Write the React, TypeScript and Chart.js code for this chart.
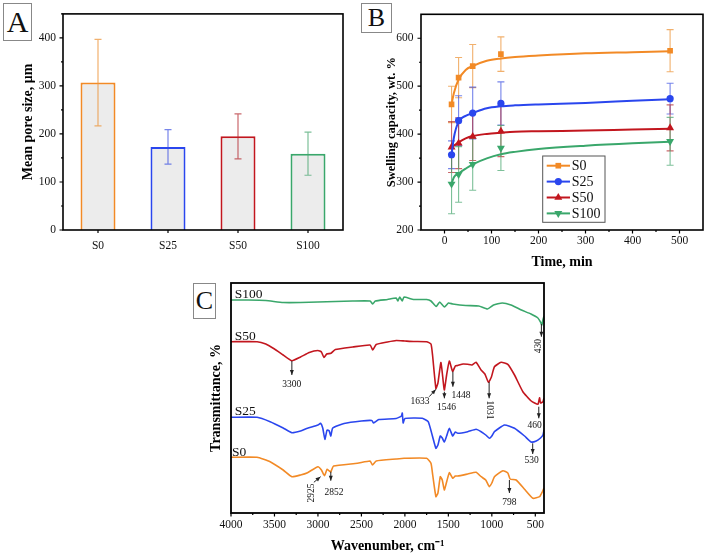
import React, { useEffect, useRef } from 'react';
import { Chart, registerables } from 'chart.js';

Chart.register(...registerables);

const SERIF = '"Liberation Serif", "Times New Roman", Times, serif';
const INK = '#111';

// ---------------- Panel A: mean pore size ----------------
const poreCategories = ['S0', 'S25', 'S50', 'S100'];
const poreMeans = [307, 173, 195, 159];
const poreErrors = [90, 36, 47, 45];
const poreMajorTicks = [0, 100, 200, 300, 400];
const poreMinorTicks = [50, 150, 250, 350, 450];

// ---------------- shared sample colours ----------------
const sampleNames = ['S0', 'S25', 'S50', 'S100'];
const sampleColors = ['#f28a26', '#2a46ee', '#c2161e', '#3aa76b'];
const sampleErrColors = ['rgba(236,150,60,0.75)', 'rgba(60,80,225,0.7)', 'rgba(180,40,45,0.7)', 'rgba(70,165,110,0.7)'];

// ---------------- Panel B: swelling capacity ----------------
const swellTimes = [15, 30, 60, 120, 480];
const swellS0 = [462, 518, 542, 567, 574];
const swellS0Err = [38, 42, 45, 36, 44];
const swellS25 = [357, 428, 444, 464, 474];
const swellS25Err = [29, 52, 54, 45, 32];
const swellS50 = [373, 381, 395, 406, 413];
const swellS50Err = [53, 53, 50, 53, 48];
const swellS100 = [296, 316, 337, 371, 385];
const swellS100Err = [62, 58, 54, 47, 50];
const fitTimes = [15, 20, 30, 45, 60, 90, 120, 150, 200, 300, 400, 480];
const fitS0 = [462, 486, 514, 534, 542, 553, 558, 561, 564, 568.5, 571, 573];
const fitS25 = [357, 393, 426, 438, 444, 454, 458, 460, 462, 465, 469.5, 473];
const fitS50 = [372, 376, 383, 391, 396, 400.5, 403, 405, 406, 407.5, 409.5, 411];
const fitS100 = [296, 310, 318, 328, 337, 349.5, 358, 363, 369, 376, 381, 384];
const swellXMajor = [0, 100, 200, 300, 400, 500];
const swellXMinor = [-50, 50, 150, 250, 350, 450, 550];
const swellYMajor = [200, 300, 400, 500, 600];
const swellYMinor = [250, 350, 450, 550, 650];
const swellMarkers = ['rect', 'circle', 'triangle', 'triangle'];
const swellMarkerRot = [0, 0, 0, 180];
const swellMarkerRadius = [4, 3.6, 4.6, 4.6];

// ---------------- Panel C: FTIR spectra (offset transmittance) ----------------
const ftirS100Wn = [4000, 3800, 3600, 3400, 3200, 3000, 2800, 2600, 2400, 2370, 2340, 2200, 2100, 2080, 2060, 2030, 2010, 1900, 1750, 1700, 1640, 1600, 1545, 1500, 1450, 1300, 1150, 1050, 980, 880, 780, 660, 550, 470, 440, 425, 410, 400];
const ftirS100 = [213, 213, 212.5, 210.5, 210.5, 211, 211.5, 212, 212, 209, 212, 213.5, 215, 212, 216, 212, 216, 213.5, 213.5, 212, 206.5, 211, 206, 210, 209, 207.5, 207, 204, 208, 210, 208, 203, 199, 195, 191, 188, 194, 197];
const ftirS50Wn = [4000, 3700, 3600, 3500, 3400, 3300, 3200, 3100, 3000, 2960, 2930, 2900, 2850, 2800, 2600, 2400, 2370, 2330, 2200, 2100, 2000, 1900, 1750, 1700, 1682, 1643, 1620, 1585, 1547, 1520, 1489, 1451, 1420, 1393, 1330, 1278, 1230, 1182, 1124, 1080, 1039, 1005, 970, 893, 816, 739, 643, 547, 470, 451, 440, 412, 400];
const ftirS50 = [171.3, 171.3, 169, 164, 158, 152.3, 156, 160.5, 162.5, 161, 155.5, 159, 159.7, 163.5, 166, 168, 163, 168.5, 171, 172.5, 172, 171.5, 171.3, 169, 158, 124.5, 130, 150.5, 123, 138, 152, 141.5, 147, 147.5, 149, 148.7, 148, 150.7, 143, 139, 130.7, 136, 146.3, 150.7, 148.7, 138, 121.3, 112, 108.7, 115.3, 110, 111.3, 115];
const ftirS25Wn = [4000, 3700, 3550, 3400, 3300, 3200, 3120, 3000, 2970, 2945, 2920, 2895, 2870, 2852, 2830, 2700, 2500, 2380, 2360, 2300, 2100, 2040, 2030, 2020, 2000, 1800, 1732, 1681, 1643, 1620, 1593, 1570, 1547, 1520, 1489, 1450, 1420, 1392, 1277, 1181, 1123, 1070, 1028, 1000, 970, 855, 739, 624, 547, 489, 440, 412, 400];
const ftirS25 = [95.7, 95.7, 91.3, 85, 80.3, 82, 84.7, 88, 89.7, 85, 73.7, 83, 82, 77, 85, 89.5, 92, 92.5, 90, 93.5, 94.5, 97, 100, 90, 94.5, 94.7, 91.3, 76.3, 64.7, 68, 77, 75, 71, 77, 84.7, 77, 81, 79.7, 81.3, 83.7, 81.3, 78, 74.7, 77, 81.3, 88, 84.7, 77, 71, 72, 75, 78, 83];
const ftirS0Wn = [4000, 3700, 3550, 3400, 3300, 3200, 3120, 3000, 2960, 2925, 2895, 2870, 2852, 2820, 2546, 2400, 2373, 2330, 2100, 2009, 1750, 1700, 1680, 1643, 1620, 1593, 1570, 1547, 1520, 1489, 1450, 1420, 1392, 1277, 1181, 1123, 1070, 1028, 1000, 970, 873, 816, 790, 720, 624, 528, 451, 420, 400];
const ftirS0 = [55.7, 55.7, 51.3, 43, 36.3, 38, 40.3, 46.3, 43, 37.3, 43.7, 42, 41, 47, 49.7, 52, 48, 52, 54, 54.7, 54.7, 49.7, 38, 16.3, 20, 36.3, 33, 23, 31, 40.3, 34.7, 37, 37, 39, 40.7, 36.3, 33, 26.3, 30, 36.3, 42.3, 40, 34, 33, 23.7, 14.7, 16.3, 21, 25];
const ftirXMajor = [4000, 3500, 3000, 2500, 2000, 1500, 1000, 500];
const ftirXMinor = [3750, 3250, 2750, 2250, 1750, 1250, 750];
const ftirSeriesLabels = [
  { text: 'S100', wn: 3958, y: 219 },
  { text: 'S50', wn: 3958, y: 177 },
  { text: 'S25', wn: 3958, y: 101.3 },
  { text: 'S0', wn: 3988, y: 60.5 },
];
// arrow from (wn0, y0) to (wn1, y1); label at (lw, ly) rotated by rot degrees
const ftirPeaks = [
  { text: '3300', wn0: 3300, y0: 152, wn1: 3300, y1: 138, lw: 3300, ly: 128.7, rot: 0 },
  { text: '1633', wn0: 1720, y0: 116.3, wn1: 1643, y1: 123.7, lw: 1825, ly: 111.3, rot: 0 },
  { text: '1546', wn0: 1546, y0: 121.3, wn1: 1546, y1: 114.7, lw: 1520, ly: 105.3, rot: 0 },
  { text: '1448', wn0: 1448, y0: 141.3, wn1: 1448, y1: 126.3, lw: 1354, ly: 117.7, rot: 0 },
  { text: '1031', wn0: 1031, y0: 131, wn1: 1031, y1: 114.7, lw: 1028, ly: 103, rot: 90 },
  { text: '460', wn0: 460, y0: 106.3, wn1: 460, y1: 94.7, lw: 508, ly: 88, rot: 0 },
  { text: '430', wn0: 430, y0: 189, wn1: 430, y1: 176.3, lw: 460, ly: 167, rot: -90 },
  { text: '530', wn0: 530, y0: 69.7, wn1: 530, y1: 59, lw: 542, ly: 53, rot: 0 },
  { text: '2925', wn0: 3047, y0: 30.7, wn1: 2970, y1: 36.3, lw: 3070, ly: 20, rot: -90 },
  { text: '2852', wn0: 2852, y0: 41.3, wn1: 2852, y1: 32.3, lw: 2816, ly: 20.3, rot: 0 },
  { text: '798', wn0: 798, y0: 33, wn1: 798, y1: 20, lw: 797, ly: 10.7, rot: 0 },
];

// ---------------- helpers ----------------
function font(size: number, bold = false): any {
  return { family: SERIF, size, weight: bold ? 'bold' : 'normal', lineHeight: 1.2 };
}

const plainNumber = (v: any) => String(v);

function strokeFrame(chart: any, width = 1.5) {
  const { ctx, chartArea: a } = chart;
  ctx.save();
  ctx.strokeStyle = '#000';
  ctx.lineWidth = width;
  ctx.strokeRect(a.left, a.top, a.right - a.left, a.bottom - a.top);
  ctx.restore();
}

function tickMarks(chart: any, axisId: string, values: number[], length: number) {
  const { ctx, chartArea: a, scales } = chart;
  const s = scales[axisId];
  ctx.save();
  ctx.strokeStyle = '#000';
  ctx.lineWidth = 1.2;
  ctx.beginPath();
  for (const v of values) {
    if (axisId === 'y') {
      const y = s.getPixelForValue(v);
      ctx.moveTo(a.left, y);
      ctx.lineTo(a.left - length, y);
    } else {
      const x = s.getPixelForValue(v);
      ctx.moveTo(x, a.bottom);
      ctx.lineTo(x, a.bottom + length);
    }
  }
  ctx.stroke();
  ctx.restore();
}

function errorBar(ctx: any, x: number, yTop: number, yBot: number, cap: number, color: string, lw = 1) {
  ctx.save();
  ctx.strokeStyle = color;
  ctx.lineWidth = lw;
  ctx.beginPath();
  ctx.moveTo(x, yTop);
  ctx.lineTo(x, yBot);
  ctx.moveTo(x - cap, yTop);
  ctx.lineTo(x + cap, yTop);
  ctx.moveTo(x - cap, yBot);
  ctx.lineTo(x + cap, yBot);
  ctx.stroke();
  ctx.restore();
}

function drawMarker(ctx: any, style: string, x: number, y: number, r: number, rot: number, color: string) {
  ctx.save();
  ctx.fillStyle = color;
  ctx.translate(x, y);
  ctx.rotate((rot * Math.PI) / 180);
  ctx.beginPath();
  if (style === 'rect') {
    const s = r * Math.SQRT1_2;
    ctx.rect(-s, -s, 2 * s, 2 * s);
  } else if (style === 'circle') {
    ctx.arc(0, 0, r, 0, Math.PI * 2);
  } else {
    ctx.moveTo(0, -r);
    ctx.lineTo(r * 0.866, r * 0.5);
    ctx.lineTo(-r * 0.866, r * 0.5);
    ctx.closePath();
  }
  ctx.fill();
  ctx.restore();
}

function arrow(ctx: any, x0: number, y0: number, x1: number, y1: number) {
  ctx.beginPath();
  ctx.moveTo(x0, y0);
  ctx.lineTo(x1, y1);
  ctx.stroke();
  const ang = Math.atan2(y1 - y0, x1 - x0);
  const L = 5;
  const W = 2;
  const bx = x1 - L * Math.cos(ang);
  const by = y1 - L * Math.sin(ang);
  ctx.beginPath();
  ctx.moveTo(x1, y1);
  ctx.lineTo(bx + W * Math.sin(ang), by - W * Math.cos(ang));
  ctx.lineTo(bx - W * Math.sin(ang), by + W * Math.cos(ang));
  ctx.closePath();
  ctx.fill();
}

// ---------------- chart configs ----------------
function configA(): any {
  return {
    type: 'bar',
    data: {
      labels: poreCategories,
      datasets: [
        {
          data: poreMeans,
          backgroundColor: '#ececec',
          borderColor: sampleColors,
          borderWidth: 2,
          barPercentage: 0.5,
          categoryPercentage: 1,
        },
      ],
    },
    options: {
      animation: false,
      responsive: false,
      maintainAspectRatio: false,
      layout: { padding: { top: 4, right: 7, left: 0, bottom: 0 } },
      plugins: { legend: { display: false }, tooltip: { enabled: false } },
      scales: {
        x: {
          grid: { display: false, drawTicks: false },
          border: { display: false },
          ticks: { font: font(11.5), color: INK, padding: 8.8 },
          afterFit: (s: any) => { s.height = 30; },
        },
        y: {
          min: 0,
          max: 450,
          afterBuildTicks: (s: any) => { s.ticks = poreMajorTicks.map((v) => ({ value: v })); },
          grid: { display: false, drawTicks: false },
          border: { display: false },
          ticks: { font: font(11.5), color: INK, padding: 7, callback: plainNumber },
          title: { display: true, text: 'Mean pore size, μm', font: font(14, true), color: '#000', padding: { top: 19.6, bottom: 0 } },
          afterFit: (s: any) => { s.width = 63; },
        },
      },
    },
    plugins: [
      {
        id: 'poreDecor',
        afterDatasetsDraw(chart: any) {
          const { ctx, scales } = chart;
          poreMeans.forEach((m, i) => {
            const x = scales.x.getPixelForValue(i);
            errorBar(ctx, x, scales.y.getPixelForValue(m + poreErrors[i]), scales.y.getPixelForValue(m - poreErrors[i]), 3.5, sampleErrColors[i], 1.2);
          });
          strokeFrame(chart, 1.6);
          tickMarks(chart, 'y', poreMajorTicks, 3.5);
          tickMarks(chart, 'y', poreMinorTicks, 2);
          tickMarks(chart, 'x', poreCategories.map((_, i) => i), 3);
        },
      },
    ],
  };
}

function configB(): any {
  const marks = [swellS0, swellS25, swellS50, swellS100];
  const errs = [swellS0Err, swellS25Err, swellS50Err, swellS100Err];
  const fits = [fitS0, fitS25, fitS50, fitS100];
  const datasets: any[] = [];
  sampleNames.forEach((name, i) => {
    datasets.push({
      label: name + ' fit',
      data: fitTimes.map((t, k) => ({ x: t, y: fits[i][k] })),
      borderColor: sampleColors[i],
      borderWidth: 2,
      pointRadius: 0,
      cubicInterpolationMode: 'monotone',
      fill: false,
    });
  });
  sampleNames.forEach((name, i) => {
    datasets.push({
      label: name,
      data: swellTimes.map((t, k) => ({ x: t, y: marks[i][k] })),
      showLine: false,
      pointStyle: swellMarkers[i],
      rotation: swellMarkerRot[i],
      pointRadius: swellMarkerRadius[i],
      backgroundColor: sampleColors[i],
      borderColor: sampleColors[i],
      borderWidth: 0,
    });
  });
  return {
    type: 'line',
    data: { datasets },
    options: {
      animation: false,
      responsive: false,
      maintainAspectRatio: false,
      layout: { padding: { top: 4, right: 6, left: 0, bottom: 0 } },
      plugins: { legend: { display: false }, tooltip: { enabled: false } },
      scales: {
        x: {
          type: 'linear',
          min: -50,
          max: 550,
          afterBuildTicks: (s: any) => { s.ticks = swellXMajor.map((v) => ({ value: v })); },
          grid: { display: false, drawTicks: false },
          border: { display: false },
          ticks: { font: font(11.5), color: INK, padding: 4, callback: plainNumber },
          title: { display: true, text: 'Time, min', font: font(14, true), color: '#000', padding: { top: 0, bottom: 4.6 } },
          afterFit: (s: any) => { s.height = 45; },
        },
        y: {
          type: 'linear',
          min: 200,
          max: 650,
          afterBuildTicks: (s: any) => { s.ticks = swellYMajor.map((v) => ({ value: v })); },
          grid: { display: false, drawTicks: false },
          border: { display: false },
          ticks: { font: font(11.5), color: INK, padding: 7.4, callback: plainNumber },
          title: { display: true, text: 'Swelling capacity, wt. %', font: font(12.5, true), color: '#000', padding: { top: 34, bottom: 0 } },
          afterFit: (s: any) => { s.width = 71; },
        },
      },
    },
    plugins: [
      {
        id: 'swellDecor',
        beforeDatasetsDraw(chart: any) {
          const { ctx, scales } = chart;
          sampleNames.forEach((_, i) => {
            swellTimes.forEach((t, k) => {
              const x = scales.x.getPixelForValue(t);
              errorBar(ctx, x, scales.y.getPixelForValue(marks[i][k] + errs[i][k]), scales.y.getPixelForValue(marks[i][k] - errs[i][k]), 3.5, sampleErrColors[i], 1.1);
            });
          });
        },
        afterDraw(chart: any) {
          const { ctx } = chart;
          strokeFrame(chart, 1.6);
          tickMarks(chart, 'y', swellYMajor, 3.5);
          tickMarks(chart, 'y', swellYMinor.filter((v) => v < 650), 2);
          tickMarks(chart, 'x', swellXMajor, 3.5);
          tickMarks(chart, 'x', swellXMinor.filter((v) => v > -50 && v < 550), 2);
          // legend box
          const bx = 192.7;
          const by = 156;
          const bw = 62.3;
          const bh = 66.3;
          ctx.save();
          ctx.fillStyle = '#fff';
          ctx.fillRect(bx, by, bw, bh);
          ctx.strokeStyle = '#555';
          ctx.lineWidth = 1;
          ctx.strokeRect(bx, by, bw, bh);
          ctx.font = '14px ' + SERIF;
          ctx.textBaseline = 'middle';
          ctx.textAlign = 'left';
          sampleNames.forEach((name, i) => {
            const y = by + 9.7 + i * 15.9;
            ctx.strokeStyle = sampleColors[i];
            ctx.lineWidth = 2;
            ctx.beginPath();
            ctx.moveTo(bx + 4, y);
            ctx.lineTo(bx + 27.3, y);
            ctx.stroke();
            drawMarker(ctx, swellMarkers[i], bx + 15.6, y, swellMarkerRadius[i], swellMarkerRot[i], sampleColors[i]);
            ctx.fillStyle = INK;
            ctx.fillText(name, bx + 29, y + 0.5);
          });
          ctx.restore();
        },
      },
    ],
  };
}

function configC(): any {
  const series = [
    { wn: ftirS100Wn, val: ftirS100 },
    { wn: ftirS50Wn, val: ftirS50 },
    { wn: ftirS25Wn, val: ftirS25 },
    { wn: ftirS0Wn, val: ftirS0 },
  ];
  const colorIdx = [3, 2, 1, 0];
  return {
    type: 'line',
    data: {
      datasets: series.map((s, i) => ({
        label: sampleNames[colorIdx[i]],
        data: s.wn.map((w, k) => ({ x: w, y: s.val[k] })),
        borderColor: sampleColors[colorIdx[i]],
        borderWidth: 1.6,
        pointRadius: 0,
        tension: 0.15,
        fill: false,
      })),
    },
    options: {
      animation: false,
      responsive: false,
      maintainAspectRatio: false,
      layout: { padding: { top: 8, right: 16, left: 0, bottom: 0 } },
      plugins: { legend: { display: false }, tooltip: { enabled: false } },
      scales: {
        x: {
          type: 'linear',
          min: 400,
          max: 4000,
          reverse: true,
          afterBuildTicks: (s: any) => { s.ticks = ftirXMajor.map((v) => ({ value: v })); },
          grid: { display: false, drawTicks: false },
          border: { display: false },
          ticks: { font: font(11.5), color: INK, padding: 5, callback: plainNumber },
          title: { display: true, text: 'Wavenumber, cm⁻¹', font: font(14, true), color: '#000', padding: { top: 0, bottom: 1.6 } },
          afterFit: (s: any) => { s.height = 43; },
        },
        y: {
          type: 'linear',
          min: 0,
          max: 230,
          grid: { display: false, drawTicks: false },
          border: { display: false },
          ticks: { display: false },
          title: { display: true, text: 'Transmittance, %', font: font(14, true), color: '#000', padding: { top: 23.3, bottom: 0 } },
          afterFit: (s: any) => { s.width = 46; },
        },
      },
    },
    plugins: [
      {
        id: 'ftirDecor',
        afterDraw(chart: any) {
          const { ctx, scales } = chart;
          const X = (w: number) => scales.x.getPixelForValue(w);
          const Y = (v: number) => scales.y.getPixelForValue(v);
          strokeFrame(chart, 1.8);
          tickMarks(chart, 'x', ftirXMajor, 3.5);
          tickMarks(chart, 'x', ftirXMinor, 2);
          ctx.save();
          ctx.fillStyle = INK;
          ctx.textBaseline = 'middle';
          ctx.textAlign = 'left';
          ctx.font = '13.5px ' + SERIF;
          ftirSeriesLabels.forEach((l) => ctx.fillText(l.text, X(l.wn), Y(l.y)));
          ctx.strokeStyle = '#222';
          ctx.fillStyle = '#222';
          ctx.lineWidth = 1;
          ftirPeaks.forEach((p) => arrow(ctx, X(p.wn0), Y(p.y0), X(p.wn1), Y(p.y1)));
          ctx.font = '9.5px ' + SERIF;
          ctx.textAlign = 'center';
          ctx.fillStyle = INK;
          ftirPeaks.forEach((p) => {
            ctx.save();
            ctx.translate(X(p.lw), Y(p.ly));
            ctx.rotate((p.rot * Math.PI) / 180);
            ctx.fillText(p.text, 0, 0);
            ctx.restore();
          });
          ctx.restore();
        },
      },
    ],
  };
}

function panelBox(left: number, top: number, w: number, h: number, size: number): React.CSSProperties {
  return {
    position: 'absolute',
    left,
    top,
    width: w,
    height: h,
    boxSizing: 'border-box',
    border: '1px solid #888',
    background: '#fff',
    fontFamily: SERIF,
    fontSize: size,
    lineHeight: h - 2 + 'px',
    textAlign: 'center',
    color: '#111',
  };
}

export default function App() {
  const refA = useRef<HTMLCanvasElement>(null);
  const refB = useRef<HTMLCanvasElement>(null);
  const refC = useRef<HTMLCanvasElement>(null);

  useEffect(() => {
    const charts = [
      new Chart(refA.current as HTMLCanvasElement, configA()),
      new Chart(refB.current as HTMLCanvasElement, configB()),
      new Chart(refC.current as HTMLCanvasElement, configC()),
    ];
    return () => charts.forEach((c) => c.destroy());
  }, []);

  return (
    <div style={{ position: 'absolute', left: 0, top: 0, width: 709, height: 556, background: '#fff', overflow: 'hidden' }}>
      <canvas ref={refA} width={350} height={260} style={{ position: 'absolute', left: 0, top: 0, width: 350, height: 260 }} />
      <canvas ref={refB} width={359} height={275} style={{ position: 'absolute', left: 350, top: 0, width: 359, height: 275 }} />
      <canvas ref={refC} width={375} height={281} style={{ position: 'absolute', left: 185, top: 275, width: 375, height: 281 }} />
      <div style={panelBox(3, 3, 29, 38, 30)}>A</div>
      <div style={panelBox(361, 3, 31, 30, 26)}>B</div>
      <div style={panelBox(193, 283, 23, 36, 26)}>C</div>
    </div>
  );
}
